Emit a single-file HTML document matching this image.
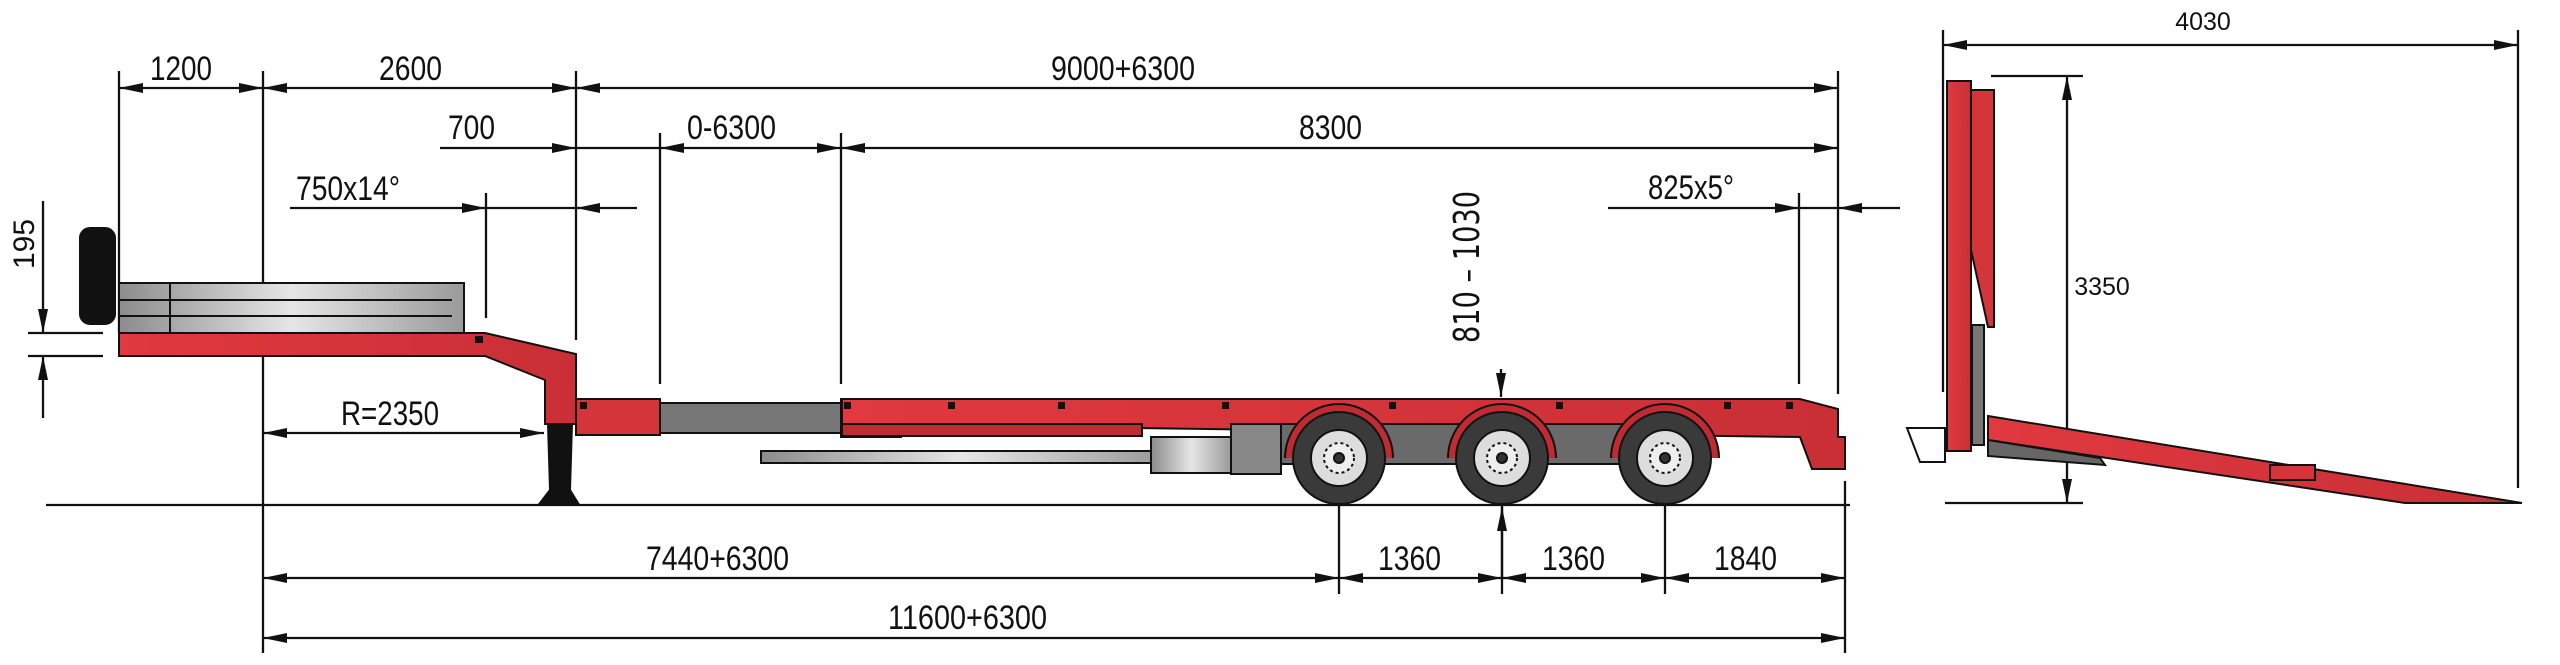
<!DOCTYPE html>
<html><head><meta charset="utf-8"><style>
html,body{margin:0;padding:0;background:#fff;}
svg{display:block;}
.d{font-family:"Liberation Sans",sans-serif;font-size:34px;fill:#111;}
.a{font-family:"Liberation Sans",sans-serif;font-size:25px;fill:#111;}
</style></head><body>
<svg width="2560" height="665" viewBox="0 0 2560 665" xmlns="http://www.w3.org/2000/svg">
<defs>
<marker id="m" viewBox="0 0 24 10" refX="24" refY="5" markerWidth="24" markerHeight="10" markerUnits="userSpaceOnUse" orient="auto-start-reverse"><path d="M0,0 L24,5 L0,10 Z" fill="#111"/></marker>
<linearGradient id="g" x1="0" x2="1" y1="0" y2="0"><stop offset="0" stop-color="#8c8c8c"/><stop offset="0.5" stop-color="#e6e6e6"/><stop offset="1" stop-color="#9a9a9a"/></linearGradient>
<linearGradient id="r" x1="0" x2="1"><stop offset="0" stop-color="#e0393f"/><stop offset="1" stop-color="#c92f36"/></linearGradient>
</defs>
<g stroke="#111" stroke-width="2.3" fill="none">
<!-- extension lines -->
<line x1="119" y1="71" x2="119" y2="333"/>
<line x1="263" y1="71" x2="263" y2="653"/>
<line x1="576" y1="71" x2="576" y2="340"/>
<line x1="660" y1="133" x2="660" y2="384"/>
<line x1="841" y1="133" x2="841" y2="384"/>
<line x1="486" y1="193" x2="486" y2="318"/>
<line x1="1838" y1="71" x2="1838" y2="394"/>
<line x1="1799" y1="193" x2="1799" y2="384"/>
<line x1="1845" y1="481" x2="1845" y2="653"/>
<line x1="1339" y1="458" x2="1339" y2="594"/>
<line x1="1502" y1="458" x2="1502" y2="594"/>
<line x1="1665" y1="458" x2="1665" y2="594"/>
<!-- row1 -->
<line x1="119" y1="88" x2="263" y2="88" marker-start="url(#m)" marker-end="url(#m)"/>
<line x1="263" y1="88" x2="576" y2="88" marker-start="url(#m)" marker-end="url(#m)"/>
<line x1="576" y1="88" x2="1838" y2="88" marker-start="url(#m)" marker-end="url(#m)"/>
<!-- row2 -->
<line x1="440" y1="148" x2="576" y2="148" marker-end="url(#m)"/>
<line x1="576" y1="148" x2="660" y2="148"/>
<line x1="660" y1="148" x2="841" y2="148" marker-start="url(#m)" marker-end="url(#m)"/>
<line x1="841" y1="148" x2="1838" y2="148" marker-start="url(#m)" marker-end="url(#m)"/>
<!-- row3 -->
<line x1="290" y1="208" x2="486" y2="208" marker-end="url(#m)"/>
<line x1="486" y1="208" x2="576" y2="208"/>
<line x1="637" y1="208" x2="576" y2="208" marker-end="url(#m)"/>
<line x1="1608" y1="208" x2="1799" y2="208" marker-end="url(#m)"/>
<line x1="1799" y1="208" x2="1838" y2="208"/>
<line x1="1900" y1="208" x2="1838" y2="208" marker-end="url(#m)"/>
<!-- 195 -->
<line x1="43" y1="201" x2="43" y2="333" marker-end="url(#m)"/>
<line x1="43" y1="418" x2="43" y2="356" marker-end="url(#m)"/>
<line x1="28" y1="333" x2="103" y2="333"/>
<line x1="28" y1="356" x2="103" y2="356"/>
<!-- R -->
<line x1="263" y1="433" x2="544" y2="433" marker-start="url(#m)" marker-end="url(#m)"/>
<!-- 810 arrow -->
<line x1="1501" y1="369" x2="1501" y2="397" marker-end="url(#m)"/>
<line x1="1502" y1="578" x2="1502" y2="507" marker-end="url(#m)"/>
<!-- ground -->
<line x1="46" y1="505" x2="1850" y2="505"/>
<!-- bottom rows -->
<line x1="263" y1="578" x2="1339" y2="578" marker-start="url(#m)" marker-end="url(#m)"/>
<line x1="1339" y1="578" x2="1502" y2="578" marker-start="url(#m)" marker-end="url(#m)"/>
<line x1="1502" y1="578" x2="1665" y2="578" marker-start="url(#m)" marker-end="url(#m)"/>
<line x1="1665" y1="578" x2="1845" y2="578" marker-start="url(#m)" marker-end="url(#m)"/>
<line x1="263" y1="638" x2="1845" y2="638" marker-start="url(#m)" marker-end="url(#m)"/>
<!-- right view dims -->
<line x1="1943" y1="30" x2="1943" y2="392"/>
<line x1="2518" y1="30" x2="2518" y2="488"/>
<line x1="1943" y1="45" x2="2518" y2="45" marker-start="url(#m)" marker-end="url(#m)"/>
<line x1="1991" y1="76" x2="2083" y2="76"/>
<line x1="1945" y1="503" x2="2083" y2="503"/>
<line x1="2067" y1="76" x2="2067" y2="503" marker-start="url(#m)" marker-end="url(#m)"/>
</g>

<!-- trailer drawing -->
<g stroke="#111" stroke-width="2">
<!-- spare wheel -->
<rect x="80" y="228" width="35" height="96" rx="10" fill="#111"/>
<!-- rails -->
<rect x="119" y="283" width="345" height="50" fill="url(#g)"/>
<line x1="119" y1="300" x2="452" y2="300"/>
<line x1="119" y1="316" x2="452" y2="316"/>
<line x1="170" y1="283" x2="170" y2="333"/>
<!-- front deck + gooseneck -->
<path d="M119,333 L485,333 L576,354 L576,424 L545,424 L545,380 L485,356 L119,356 Z" fill="url(#r)"/>
<!-- lower deck -->
<rect x="576" y="399" width="84" height="36" fill="#d3353b"/>
<rect x="660" y="403" width="181" height="30" fill="#777"/>
<rect x="841" y="399" width="60" height="38" fill="#d3353b"/>
<!-- main deck -->
<path d="M842,399 L1800,399 L1838,409 L1838,437 L1845,437 L1845,469 L1812,469 L1800,437 L842,424 Z" fill="url(#r)"/>
<rect x="842" y="424" width="300" height="12" fill="#c02a31"/>
<!-- telescopic bar -->
<rect x="761" y="451" width="400" height="12" fill="url(#g)"/>
<!-- toolbox -->
<rect x="1151" y="437" width="80" height="36" fill="url(#g)"/>
<rect x="1231" y="424" width="50" height="50" fill="#888"/>
<!-- suspension -->
<rect x="1281" y="424" width="380" height="40" fill="#6a6a6a"/>
<!-- landing leg -->
<path d="M548,424 L572,424 L570,490 L578,503 L540,503 L550,490 Z" fill="#111"/>
<!-- deck brackets -->
<g fill="#111" stroke="none">
<rect x="475" y="336" width="8" height="7"/><rect x="580" y="402" width="7" height="7"/><rect x="844" y="402" width="7" height="7"/>
<rect x="948" y="402" width="7" height="7"/><rect x="1058" y="402" width="7" height="7"/><rect x="1222" y="402" width="7" height="7"/>
<rect x="1389" y="402" width="7" height="7"/><rect x="1556" y="402" width="7" height="7"/><rect x="1724" y="402" width="7" height="7"/><rect x="1786" y="402" width="7" height="7"/>
</g>
</g>
<!-- wheels -->
<g stroke="#111" stroke-width="2">
<path d="M1285,458 A54,54 0 0 1 1393,458" fill="#c02a31"/>
<path d="M1448,458 A54,54 0 0 1 1556,458" fill="#c02a31"/>
<path d="M1611,458 A54,54 0 0 1 1719,458" fill="#c02a31"/>
<circle cx="1339" cy="458" r="46" fill="#3a3a3a"/><circle cx="1339" cy="458" r="28" fill="#ddd"/><circle cx="1339" cy="458" r="15" fill="#eee" stroke-dasharray="3 3"/><circle cx="1339" cy="458" r="5" fill="#333"/>
<circle cx="1502" cy="458" r="46" fill="#3a3a3a"/><circle cx="1502" cy="458" r="28" fill="#ddd"/><circle cx="1502" cy="458" r="15" fill="#eee" stroke-dasharray="3 3"/><circle cx="1502" cy="458" r="5" fill="#333"/>
<circle cx="1665" cy="458" r="46" fill="#3a3a3a"/><circle cx="1665" cy="458" r="28" fill="#ddd"/><circle cx="1665" cy="458" r="15" fill="#eee" stroke-dasharray="3 3"/><circle cx="1665" cy="458" r="5" fill="#333"/>
</g>
<!-- right view ramp -->
<g stroke="#111" stroke-width="2">
<rect x="1947" y="81" width="24" height="370" fill="url(#r)"/>
<path d="M1971,90 L1994,90 L1994,327 L1988,327 L1971,250 Z" fill="#d3353b"/>
<rect x="1972" y="325" width="12" height="120" fill="#777"/>
<path d="M1907,428 L1945,428 L1945,462 L1920,462 Z" fill="#fff"/>
<path d="M1988,416 L2522,503 L2405,503 L1988,440 Z" fill="url(#r)"/>
<path d="M1988,440 L2100,458 L2105,465 L1988,456 Z" fill="#666"/>
<rect x="2270" y="465" width="45" height="15" fill="#d3353b"/>
</g>

<!-- labels -->
<text class="d" x="150" y="80" textLength="62" lengthAdjust="spacingAndGlyphs">1200</text>
<text class="d" x="379" y="80" textLength="63" lengthAdjust="spacingAndGlyphs">2600</text>
<text class="d" x="1051" y="80" textLength="144" lengthAdjust="spacingAndGlyphs">9000+6300</text>
<text class="d" x="448" y="139" textLength="47" lengthAdjust="spacingAndGlyphs">700</text>
<text class="d" x="687" y="139" textLength="89" lengthAdjust="spacingAndGlyphs">0-6300</text>
<text class="d" x="1299" y="139" textLength="63" lengthAdjust="spacingAndGlyphs">8300</text>
<text class="d" x="296" y="200" textLength="104" lengthAdjust="spacingAndGlyphs">750x14°</text>
<text class="d" x="1648" y="199" textLength="86" lengthAdjust="spacingAndGlyphs">825x5°</text>
<text class="d" x="341" y="425" textLength="98" lengthAdjust="spacingAndGlyphs">R=2350</text>
<text class="d" x="646" y="570" textLength="143" lengthAdjust="spacingAndGlyphs">7440+6300</text>
<text class="d" x="1378" y="570" textLength="63" lengthAdjust="spacingAndGlyphs">1360</text>
<text class="d" x="1542" y="570" textLength="63" lengthAdjust="spacingAndGlyphs">1360</text>
<text class="d" x="1714" y="570" textLength="63" lengthAdjust="spacingAndGlyphs">1840</text>
<text class="d" x="888" y="629" textLength="159" lengthAdjust="spacingAndGlyphs">11600+6300</text>
<text class="d" transform="translate(34,244) rotate(-90)" text-anchor="middle" style="font-size:30px">195</text>
<text class="d" transform="translate(1479,267) rotate(-90)" text-anchor="middle" style="font-family:'DejaVu Sans',sans-serif;font-size:36px" textLength="152" lengthAdjust="spacingAndGlyphs">810 – 1030</text>
<text class="a" x="2203" y="30" text-anchor="middle">4030</text>
<text class="a" x="2102" y="295" text-anchor="middle">3350</text>
</svg>
</body></html>
